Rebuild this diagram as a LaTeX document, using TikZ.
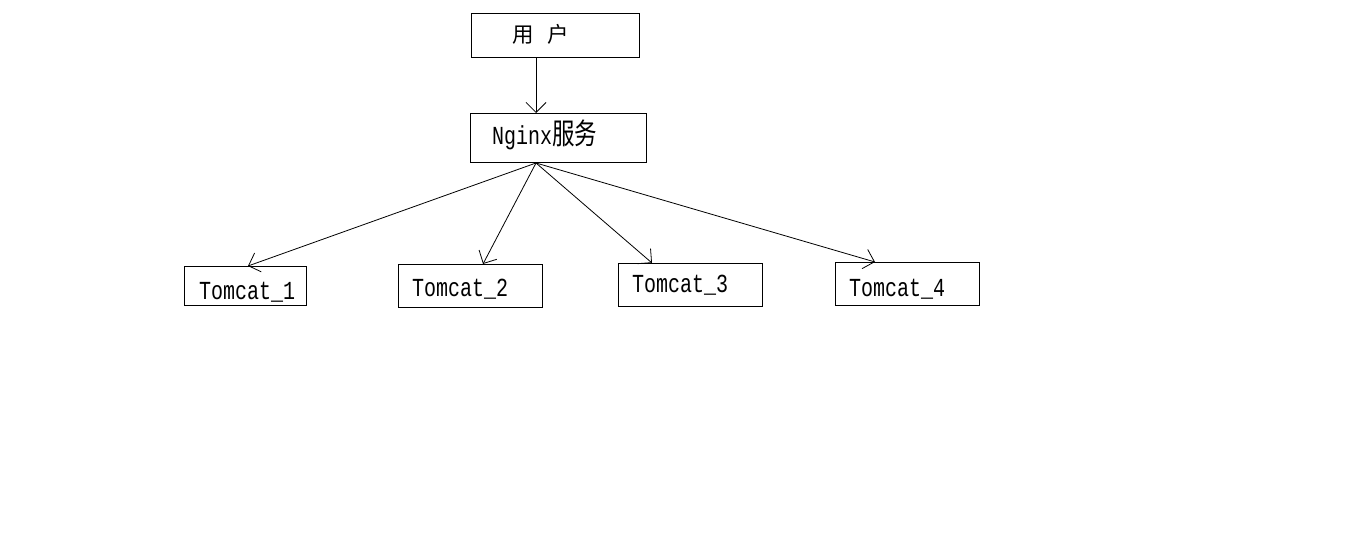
\documentclass[tikz,border=0pt]{standalone}
\usepackage{fontspec}
\setmonofont{Liberation Mono}
\newfontfamily\cjk{Noto Sans CJK SC}
\usetikzlibrary{arrows.meta}
\begin{document}
\begin{tikzpicture}[x=1pt,y=-1pt,
  box/.style={draw=black,line width=1pt,anchor=north west,inner sep=0pt},
  lbl/.style={anchor=base west,inner sep=0pt,font=\ttfamily\fontsize{20}{24}\selectfont,yscale=1.3,transform shape},
  zh/.style={anchor=base west,inner sep=0pt,font=\cjk\fontsize{21.5}{24}\selectfont},
  arr/.style={line width=0.8pt,-{Straight Barb[length=10pt,width=20pt,line width=0.8pt]}}]
\useasboundingbox (0,0) rectangle (1354,545);
% boxes
\node[box,minimum width=168pt,minimum height=44pt] (user) at (471,13) {};
\node[box,minimum width=176pt,minimum height=49pt] (nginx) at (470,113) {};
\node[box,minimum width=122pt,minimum height=39pt] (t1) at (184,266) {};
\node[box,minimum width=144pt,minimum height=43pt] (t2) at (398,264) {};
\node[box,minimum width=144pt,minimum height=43pt] (t3) at (618,263) {};
\node[box,minimum width=144pt,minimum height=43pt] (t4) at (835,262) {};
% texts
\node[zh] (userlbl) at (512,43) {用\hspace{14pt}户};
\node[lbl] (ngxlbl) at (492,145) {Nginx{\cjk\fontsize{22.5}{24}\selectfont 服务}};
\node[lbl] (t1lbl) at (199,299) {Tomcat\_1};
\node[lbl] (t2lbl) at (412,296) {Tomcat\_2};
\node[lbl] (t3lbl) at (632,293) {Tomcat\_3};
\node[lbl] (t4lbl) at (849,296) {Tomcat\_4};
% connector end points
\coordinate (us) at (user.south -| 536,0);
\coordinate (nn) at (nginx.north -| 536,0);
\coordinate (ns) at (nginx.south -| 536,0);
\coordinate (a1) at (t1.north -| 248,0);
\coordinate (a2) at (t2.north -| 483,0);
\coordinate (a3) at (t3.north -| 652,0);
\coordinate (a4) at (t4.north -| 875,0);
\draw[arr] (us) -- (nn);
\draw[arr] (ns) -- (a1);
\draw[arr] (ns) -- (a2);
\draw[arr] (ns) -- (a3);
\draw[arr] (ns) -- (a4);
\end{tikzpicture}
\end{document}
